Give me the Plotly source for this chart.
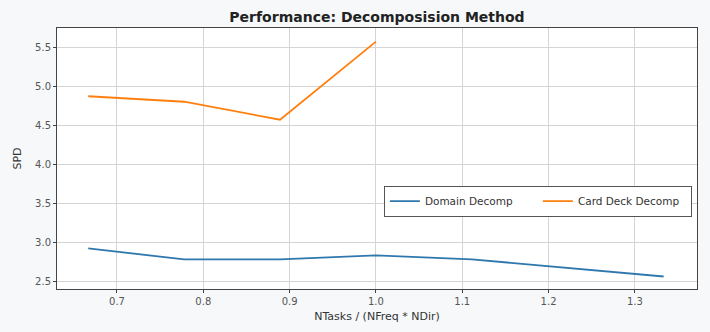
import plotly.graph_objects as go

ratio = [2/3, 7/9, 8/9, 1.0, 10/9, 11/9, 12/9]
domain_spd = [2.92, 2.78, 2.78, 2.83, 2.78, 2.67, 2.56]
card_ratio = [2/3, 7/9, 8/9, 1.0]
card_spd = [4.87, 4.80, 4.57, 5.57]

x_ticks = [0.7, 0.8, 0.9, 1.0, 1.1, 1.2, 1.3]
y_ticks = [2.5, 3.0, 3.5, 4.0, 4.5, 5.0, 5.5]

fig = go.Figure()
fig.add_trace(go.Scatter(x=ratio, y=domain_spd, mode="lines", name="Domain Decomp",
                         line=dict(color="#2f78ad", width=1.8)))
fig.add_trace(go.Scatter(x=card_ratio, y=card_spd, mode="lines", name="Card Deck Decomp",
                         line=dict(color="#ff7f0e", width=1.8)))

axis_common = dict(showline=True, linecolor="#444", linewidth=1, mirror=True,
                   showgrid=True, gridcolor="#d4d4d4", gridwidth=1,
                   ticks="outside", ticklen=3, tickcolor="#444",
                   tickfont=dict(family="DejaVu Sans", size=10, color="#555"),
                   zeroline=False, automargin=False)

fig.update_layout(
    width=710, height=332,
    paper_bgcolor="#f6f8fa", plot_bgcolor="white",
    margin=dict(l=57, r=13, t=28, b=43),
    title=dict(text="<b>Performance: Decomposision Method</b>", x=0.5, xref="paper", xanchor="center",
               y=0.95, yanchor="middle",
               font=dict(family="DejaVu Sans", size=14, color="#222")),
    xaxis=dict(range=[0.6305, 1.372], tickvals=x_ticks, ticktext=[f"{v:.1f}" for v in x_ticks],
               title=dict(text="NTasks / (NFreq * NDir)", font=dict(family="DejaVu Sans", size=11, color="#333"),
                          standoff=6),
               **axis_common),
    yaxis=dict(range=[2.40, 5.745], tickvals=y_ticks, ticktext=[f"{v:.1f}" for v in y_ticks],
               title=dict(text="SPD", font=dict(family="DejaVu Sans", size=11, color="#333"), standoff=11),
               **axis_common),
    legend=dict(orientation="h", x=0.992, xanchor="right", y=0.337, yanchor="middle",
                bgcolor="white", bordercolor="#555", borderwidth=1,
                font=dict(family="DejaVu Sans", size=10.5, color="#333"),
                entrywidth=108, tracegroupgap=0),
    showlegend=True,
)

fig.write_html("out.html", config={"displayModeBar": False},
               post_script="document.body.style.margin='0';document.body.style.background='#f6f8fa';")
